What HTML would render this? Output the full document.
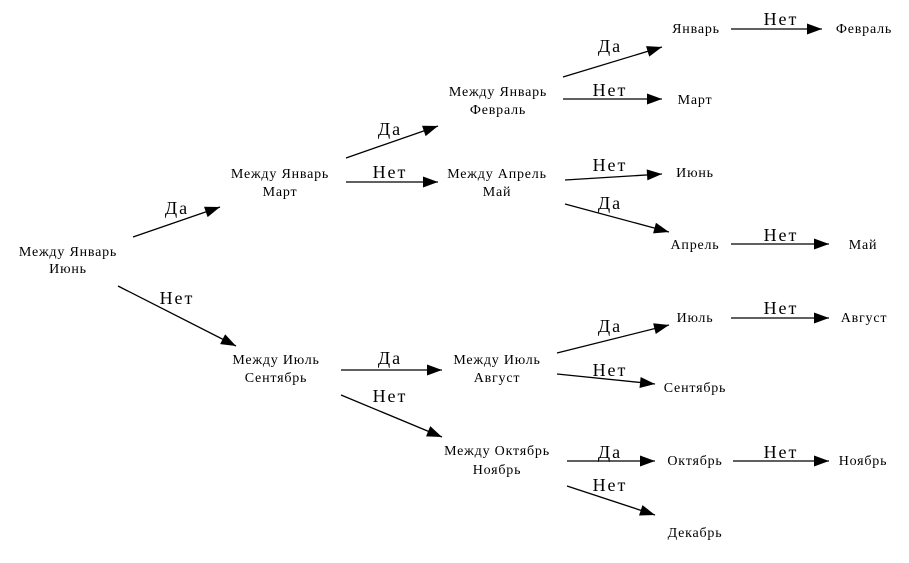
<!DOCTYPE html>
<html><head><meta charset="utf-8"><style>
html,body{margin:0;padding:0;background:#fff;}
svg{display:block;}
.n{font-family:"Liberation Serif","DejaVu Serif",serif;font-size:14px;fill:#000;text-anchor:middle;letter-spacing:0.8px;}
.e{font-family:"Liberation Serif","DejaVu Serif",serif;font-size:18px;fill:#000;text-anchor:middle;letter-spacing:2px;}
line{stroke:#000;stroke-width:1.3;}
</style></head><body>
<svg width="909" height="563" viewBox="0 0 909 563" xmlns="http://www.w3.org/2000/svg">
<defs><marker id="a" markerWidth="17" markerHeight="11" refX="16" refY="5.5" orient="auto" markerUnits="userSpaceOnUse"><path d="M1,0 L16,5.5 L1,11 z" fill="#000"/></marker></defs>
<g class="n">
<text x="68" y="256">Между Январь</text><text x="68" y="273">Июнь</text>
<text x="280" y="178">Между Январь</text><text x="280" y="196">Март</text>
<text x="276" y="364">Между Июль</text><text x="276" y="382">Сентябрь</text>
<text x="498" y="96">Между Январь</text><text x="498" y="114">Февраль</text>
<text x="497" y="178">Между Апрель</text><text x="497" y="196">Май</text>
<text x="497" y="364">Между Июль</text><text x="497" y="382">Август</text>
<text x="497" y="455">Между Октябрь</text><text x="497" y="474">Ноябрь</text>
<text x="696" y="33">Январь</text><text x="864" y="33">Февраль</text>
<text x="695" y="104">Март</text><text x="695" y="177">Июнь</text>
<text x="695" y="249">Апрель</text><text x="863" y="249">Май</text>
<text x="695" y="322">Июль</text><text x="864" y="322">Август</text>
<text x="695" y="392">Сентябрь</text>
<text x="695" y="465">Октябрь</text><text x="863" y="465">Ноябрь</text>
<text x="695" y="537">Декабрь</text>
</g>
<g marker-end="url(#a)">
<line x1="133" y1="237" x2="220" y2="207"/>
<line x1="118" y1="286" x2="236" y2="346"/>
<line x1="346" y1="158" x2="438" y2="126"/>
<line x1="346" y1="182" x2="438" y2="182"/>
<line x1="341" y1="370" x2="442" y2="370"/>
<line x1="341" y1="395" x2="442" y2="437"/>
<line x1="563" y1="77" x2="662" y2="47"/>
<line x1="563" y1="99" x2="662" y2="99"/>
<line x1="565" y1="180" x2="662" y2="174"/>
<line x1="565" y1="204" x2="669" y2="232"/>
<line x1="731" y1="29" x2="822" y2="29"/>
<line x1="731" y1="244" x2="829" y2="244"/>
<line x1="557" y1="353" x2="669" y2="325"/>
<line x1="557" y1="374" x2="655" y2="384"/>
<line x1="731" y1="318" x2="829" y2="318"/>
<line x1="567" y1="461" x2="655" y2="461"/>
<line x1="567" y1="486" x2="655" y2="515"/>
<line x1="733" y1="461" x2="829" y2="461"/>
</g>
<g class="e">
<text x="177" y="214">Да</text>
<text x="177" y="304">Нет</text>
<text x="390" y="135">Да</text>
<text x="390" y="178">Нет</text>
<text x="390" y="364">Да</text>
<text x="390" y="402">Нет</text>
<text x="610" y="52">Да</text>
<text x="610" y="96">Нет</text>
<text x="610" y="171">Нет</text>
<text x="610" y="209">Да</text>
<text x="781" y="25">Нет</text>
<text x="781" y="241">Нет</text>
<text x="610" y="332">Да</text>
<text x="610" y="376">Нет</text>
<text x="781" y="314">Нет</text>
<text x="610" y="458">Да</text>
<text x="610" y="491">Нет</text>
<text x="781" y="458">Нет</text>
</g>
</svg>
</body></html>
